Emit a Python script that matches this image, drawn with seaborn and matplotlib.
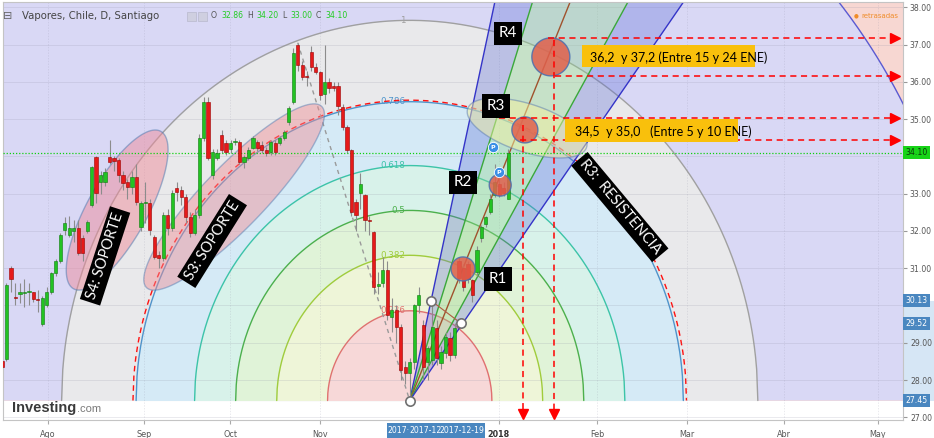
import numpy as np
import matplotlib.pyplot as plt
import matplotlib.patches as mpatches
import seaborn as sns

sns.set_style('white')
plt.rcParams['font.family'] = ['DejaVu Sans']

# daily bars, index 0 = first full candle on screen (mid July 2017)
bar_idx = np.arange(-1, 113)
opens = [28.50, 28.57, 31.00, 30.22, 30.30, 30.33, 30.36, 30.36, 30.16, 29.50,
         30.00, 30.36, 30.87, 31.20, 32.02, 31.90, 32.00, 32.08, 31.81, 32.00,
         32.70, 33.98, 33.30, 33.31, 33.98, 33.95, 33.90, 33.50, 33.31, 33.18,
         33.45, 32.10, 32.74, 32.75, 31.84, 31.36, 31.28, 32.43, 32.08, 33.15,
         33.10, 32.90, 32.37, 31.95, 32.43, 34.50, 35.45, 33.50, 33.96, 34.58,
         34.36, 34.20, 34.39, 34.39, 33.85, 33.96, 34.23, 34.39, 34.31, 34.17,
         34.12, 34.36, 34.36, 34.49, 34.93, 35.46, 36.99, 36.45, 36.14, 36.80,
         36.40, 36.26, 35.67, 35.99, 35.89, 35.89, 35.33, 34.79, 34.17, 32.78,
         33.02, 32.97, 32.30, 31.98, 30.53, 30.60, 30.95, 29.70, 29.88, 29.42,
         28.35, 28.19, 28.48, 30.00, 29.48, 28.48, 28.54, 29.40, 28.46, 28.73,
         29.13, 28.67, 31.20, 31.00, 31.10, 30.68, 30.90, 31.80, 32.18, 32.50,
         32.97, 33.25, 33.15, 32.86]
highs = [28.55, 30.60, 31.05, 30.60, 30.60, 30.70, 30.60, 30.37, 30.41, 30.25,
         30.50, 30.90, 31.25, 31.95, 32.37, 32.40, 32.30, 32.30, 31.90, 32.30,
         33.75, 34.00, 33.60, 33.70, 34.45, 34.00, 33.95, 33.60, 33.40, 33.60,
         33.80, 32.80, 33.30, 32.85, 31.90, 31.45, 32.50, 32.60, 33.10, 33.30,
         33.20, 33.00, 32.50, 32.60, 34.60, 35.60, 35.60, 34.20, 34.20, 34.70,
         34.45, 34.45, 34.50, 34.45, 34.05, 34.25, 34.55, 34.45, 34.40, 34.25,
         34.45, 34.45, 34.55, 34.70, 35.35, 36.90, 37.05, 36.55, 36.30, 36.95,
         36.50, 36.30, 36.99, 36.10, 36.00, 36.00, 35.40, 34.85, 34.20, 32.85,
         33.55, 33.00, 32.40, 32.00, 30.90, 31.30, 31.20, 30.20, 30.00, 29.50,
         28.50, 28.60, 30.05, 30.50, 29.60, 28.90, 30.13, 29.60, 28.90, 29.30,
         29.30, 29.52, 31.30, 31.10, 31.20, 30.70, 31.60, 32.15, 32.40, 33.00,
         33.80, 33.50, 33.30, 34.20]
lows = [28.30, 28.50, 30.36, 30.00, 30.06, 29.96, 30.00, 30.10, 29.83, 29.45,
        29.95, 30.30, 30.80, 31.15, 31.90, 31.85, 31.70, 31.35, 31.20, 31.95,
        32.65, 32.75, 33.00, 33.20, 33.80, 33.60, 33.30, 33.10, 32.85, 33.00,
        32.70, 32.00, 32.20, 31.90, 31.25, 31.00, 31.20, 31.90, 32.00, 32.80,
        32.70, 32.20, 31.85, 31.90, 32.35, 34.40, 33.90, 33.40, 33.90, 34.10,
        34.05, 34.10, 34.30, 33.80, 33.70, 33.90, 34.20, 34.15, 34.10, 34.00,
        34.05, 34.05, 34.30, 34.45, 34.85, 35.40, 36.30, 36.05, 35.90, 36.30,
        36.20, 35.50, 35.40, 35.70, 35.75, 35.10, 34.70, 34.10, 32.40, 32.00,
        32.60, 32.00, 31.90, 30.30, 30.30, 30.50, 29.60, 29.30, 29.00, 28.00,
        27.90, 27.45, 28.30, 29.80, 28.00, 28.00, 28.40, 28.40, 28.30, 28.60,
        28.50, 28.60, 30.60, 30.40, 30.60, 30.10, 30.80, 31.70, 32.10, 32.45,
        32.90, 32.90, 32.95, 32.85]
closes = [28.35, 30.55, 30.72, 30.20, 30.35, 30.37, 30.40, 30.17, 30.14, 30.20,
          30.37, 30.87, 31.20, 31.88, 32.21, 32.08, 32.08, 31.41, 31.41, 32.24,
          33.72, 33.02, 33.50, 33.58, 33.85, 33.88, 33.50, 33.29, 33.18, 33.45,
          32.78, 32.75, 32.78, 32.02, 31.30, 31.28, 32.43, 32.08, 33.01, 33.04,
          32.90, 32.37, 31.95, 32.43, 34.50, 35.45, 33.96, 34.12, 34.10, 34.17,
          34.12, 34.36, 34.40, 33.85, 33.99, 34.17, 34.49, 34.23, 34.17, 34.09,
          34.39, 34.12, 34.49, 34.66, 35.30, 36.77, 36.45, 36.13, 36.12, 36.40,
          36.26, 35.65, 35.99, 35.83, 35.83, 35.35, 34.79, 34.17, 32.51, 32.43,
          33.26, 32.29, 32.26, 30.50, 30.57, 30.95, 29.75, 29.88, 29.42, 28.26,
          28.19, 28.48, 30.00, 30.28, 28.35, 28.86, 29.42, 28.59, 28.75, 29.16,
          28.67, 29.40, 30.75, 30.50, 30.70, 30.28, 31.50, 32.10, 32.37, 32.85,
          33.30, 32.97, 33.02, 34.10]

month_pos = [9.3, 30.7, 49.9, 69.9, 109.9, 131.8, 151.9, 173.5, 194.5]
month_lbl = ['Ago', 'Sep', 'Oct', 'Nov', '2018', 'Feb', 'Mar', 'Abr', 'May']
price_ticks = np.arange(27, 39)
last_price = 34.10

# fibonacci arcs around the swing low
fib_cx, fib_cy = 90, 27.45
fib_levels = [1.618, 1, 0.786, 0.618, 0.5, 0.382, 0.236]
fib_labels = ['1.618', '1', '0.786', '0.618', '0.5', '0.382', '0.236']
fib_a, fib_b = 77.7, 10.2
fib_fill = ['#d9d8f5', '#e9e9eb', '#d5eaf6', '#d8f2ea', '#e0f3d8', '#eef5d8', '#f7d8d8']
fib_line = ['#5a5ad2', '#a0a0a0', '#4e94cc', '#3cc4a8', '#4cb04c', '#a0cc3c', '#e07070']

# fibonacci fan from the same low, x reached at the top of the chart
fan_top_x = [109.0, 117.4, 125.8, 138.7, 151.1]
fan_colors = ['#3434c8', '#3aa83a', '#a0522d', '#3aa83a', '#3434c8']
fan_anchor_x = [90, 94.75, 101.45]
fan_anchor_y = [27.45, 30.13, 29.52]

# resistance targets
circ_x = [121.5, 115.7, 110.2, 101.9]
circ_y = [36.67, 34.71, 33.23, 30.98]
circ_r = [19, 13, 11, 12]
guide_y = [37.18, 36.16, 35.03, 34.44]
guide_x0 = [120.9, 122.4, 110.0, 114.6]
drop_x = [115.3, 122.2]
drop_y0 = [34.84, 37.12]

W, H = 934, 438
fig = plt.figure(figsize=(W / 100, H / 100), dpi=100)
ax = fig.add_axes([3 / W, 18 / H, 900 / W, 418 / H])
xlim = (-0.78, 200.1)
ylim = (26.927, 38.142)
ax.set_xlim(*xlim)
ax.set_ylim(*ylim)
px_x = 900 / (xlim[1] - xlim[0])
px_y = 418 / (ylim[1] - ylim[0])


def px_ellipse(cx, cy, w, h, ang, **kw):
    t = np.linspace(0, 2 * np.pi, 120)
    u, v = w / 2 * np.cos(t), h / 2 * np.sin(t)
    r = np.deg2rad(ang)
    dx = u * np.cos(r) - v * np.sin(r)
    dy = u * np.sin(r) + v * np.cos(r)
    return ax.fill(cx + dx / px_x, cy + dy / px_y, **kw)


# backgrounds
ax.axhspan(fib_cy, ylim[1], color='#f7d7d2', lw=0, zorder=0.1)
for lev, lab, fc, lc in zip(fib_levels, fib_labels, fib_fill, fib_line):
    a, b = fib_a * lev, fib_b * lev
    xs = np.linspace(fib_cx - a, fib_cx + a, 600)
    ys = fib_cy + b * np.sqrt(np.clip(1 - ((xs - fib_cx) / a) ** 2, 0, None))
    ax.fill_between(xs, fib_cy, ys, color=fc, lw=0, zorder=0.5)
    sns.lineplot(x=xs, y=ys, color=lc, lw=1.0, ax=ax, sort=False,
                 estimator=None, legend=False, zorder=0.6)
    if lev < 1.5:
        ax.text(89.0, fib_cy + b, lab, color=lc, fontsize=6.3, ha='right',
                va='center', zorder=0.7)

# red dashed copy of the 0.786 arc
a, b = fib_a * 0.795, fib_b * 0.79
xs = np.linspace(fib_cx - a, fib_cx + a, 600)
ys = fib_cy + b * np.sqrt(np.clip(1 - ((xs - fib_cx) / a) ** 2, 0, None))
ax.plot(xs, ys, color='#ff1010', lw=1.0, ls=(0, (4, 3)), zorder=0.8)

# grid
for p in price_ticks:
    ax.axhline(p, color='#8a8aa0', lw=0.5, alpha=0.25, zorder=0.9)
for m in month_pos:
    ax.axvline(m, color='#8a8aa0', lw=0.5, alpha=0.25, ls=(0, (2, 2)), zorder=0.9)

# fan
def fan_x(k, y):
    return fib_cx + (fan_top_x[k] - fib_cx) * (y - fib_cy) / (ylim[1] - fib_cy)

ytop = 40
for k0, k1, fc, al in [(0, 1, '#5b6cd6', 0.32), (1, 3, '#8fd48f', 0.38), (3, 4, '#5b6cd6', 0.32)]:
    ax.fill([fib_cx, fan_x(k0, ytop), fan_x(k1, ytop)], [fib_cy, ytop, ytop],
            color=fc, alpha=al, lw=0, zorder=1.5)
for k, col in enumerate(fan_colors):
    sns.lineplot(x=[fib_cx, fan_x(k, ytop)], y=[fib_cy, ytop], color=col, lw=1.0,
                 ax=ax, legend=False, zorder=1.6)

# high-low reference line
ax.plot([65, 90], [37.05, 27.45], color='#9a9a9a', lw=1, ls=(0, (3, 3)), zorder=1.7)

# support zones
px_ellipse(24.7, 32.56, 180, 60, 61, fc='#ee8c9a', alpha=0.5, ec='#4a78b0', lw=1, zorder=2)
px_ellipse(50.8, 32.91, 252, 62, 46, fc='#f08c94', alpha=0.45, ec='#4a78b0', lw=1, zorder=2)
px_ellipse(116.2, 34.76, 125, 48, -18, fc='#f3f0a0', alpha=0.5, ec='#5a7ab0', lw=1, zorder=2)

# candles
o = np.array(opens); c = np.array(closes)
up = c >= o
body = np.maximum(np.abs(c - o), 0.03)
ax.vlines(bar_idx, lows, highs, color='#8c8c8c', lw=0.8, zorder=3)
ax.bar(bar_idx[up], body[up], bottom=o[up], width=0.72, color='#22c322',
       edgecolor='#0f7a0f', lw=0.4, zorder=4)
ax.bar(bar_idx[~up], body[~up], bottom=c[~up], width=0.72, color='#e61a1a',
       edgecolor='#9a0000', lw=0.4, zorder=4)

ax.axhline(last_price, color='#10d010', lw=0.9, ls=(0, (1, 1.5)), zorder=3.5)

# target circles
for x, y, r in zip(circ_x, circ_y, circ_r):
    px_ellipse(x, y, 2 * r, 2 * r, 0, fc='#e0604c', alpha=0.85, ec='#4a6fb0', lw=1, zorder=5)

# anchors
ax.plot(fan_anchor_x[1:], fan_anchor_y[1:], color='#b05a40', lw=0.8, zorder=5)
sns.scatterplot(x=fan_anchor_x, y=fan_anchor_y, s=45, color='white', edgecolor='#707070',
                linewidth=1.2, ax=ax, legend=False, zorder=6)

# P badges
for x, y in [(108.6, 34.25), (109.9, 33.58)]:
    ax.scatter([x], [y], s=55, color='#3a8ee6', edgecolor='white', lw=0.6, zorder=6)
    ax.text(x, y, 'P', color='white', fontsize=4.5, fontweight='bold', ha='center',
            va='center', zorder=7)

# red guides
for y, x0 in zip(guide_y, guide_x0):
    ax.plot([x0, 197.5], [y, y], color='#ff0000', lw=1.1, ls=(0, (4, 3)), zorder=5.5)
    ax.plot([198.4], [y], marker='>', ms=6.5, color='#ff0000', zorder=5.5)
for x, y0 in zip(drop_x, drop_y0):
    ax.plot([x, x], [y0, 27.2], color='#ff0000', lw=1.1, ls=(0, (4, 3)), zorder=5.5)
    ax.plot([x], [27.1], marker='v', ms=6.5, color='#ff0000', zorder=5.5, clip_on=False)

# yellow notes
lab_font = ['Lato', 'DejaVu Sans']
ax.add_patch(mpatches.Rectangle((128.5, 36.40), 38.6, 0.59, fc='#f9c00c', lw=0, zorder=6))
ax.text(130.2, 36.66, '36,2  y 37,2 (Entre 15 y 24 ENE)', fontsize=9, family=lab_font,
        va='center', ha='left', color='black', zorder=7)
ax.add_patch(mpatches.Rectangle((124.7, 34.39), 38.6, 0.61, fc='#f9c00c', lw=0, zorder=6))
ax.text(126.9, 34.66, '34,5  y 35,0   (Entre 5 y 10 ENE)', fontsize=9, family=lab_font,
        va='center', ha='left', color='black', zorder=7)

# black tags
box = dict(boxstyle='square,pad=0.3', fc='black', ec='none')
for txt, x, y in [('R4', 111.9, 37.30), ('R3', 109.3, 35.35), ('R2', 101.9, 33.31),
                  ('R1', 109.7, 30.71)]:
    ax.text(x, y, txt, color='white', fontsize=11, family=lab_font, ha='center',
            va='center', bbox=box, zorder=8)
for txt, x, y, rot in [('S4: SOPORTE', 22.0, 31.33, 72), ('S3: SOPORTE', 45.9, 31.73, 58),
                       ('R3:  RESISTENCIA', 136.9, 32.64, -50)]:
    ax.text(x, y, txt, color='white', fontsize=10.5, family=lab_font, ha='center',
            va='center', rotation=rot, rotation_mode='anchor',
            bbox=dict(boxstyle='square,pad=0.25', fc='black', ec='none'), zorder=8)

# axes styling
for s in ax.spines.values():
    s.set_color('#c4c4c4')
    s.set_linewidth(0.8)
ax.yaxis.tick_right()
ax.set_yticks(price_ticks)
# 30.00 and 34.00 sit under the marker boxes, as on the original
ax.set_yticklabels(['' if p in (30, 34) else f'{p:.2f}' for p in price_ticks])
ax.set_xticks(month_pos)
ax.set_xticklabels(month_lbl)
ax.tick_params(axis='y', labelsize=5.6, labelcolor='#555555', length=3, color='#999999',
               pad=2, right=True, left=False)
ax.tick_params(axis='x', labelsize=5.8, labelcolor='#555555', length=3, color='#aaaaaa',
               pad=4, bottom=True)
ax.get_xticklabels()[4].set_fontweight('bold')
ax.get_xticklabels()[4].set_color('#333333')

ytr = ax.get_yaxis_transform()
ax.add_patch(mpatches.Rectangle((1.0, 27.45), 0.034, 2.68, transform=ytr, fc='#d6e6f5',
                                lw=0, clip_on=False, zorder=0.05))
for val, fc, tc in [(34.10, '#18d418', '#0a3a0a'), (30.13, '#4a87c0', 'white'),
                    (29.52, '#4a87c0', 'white'), (27.45, '#4a87c0', 'white')]:
    ax.text(1.003, val, f'{val:.2f}', transform=ytr, fontsize=5.6, color=tc, ha='left',
            va='center', bbox=dict(boxstyle='square,pad=0.3', fc=fc, ec='none'),
            clip_on=False, zorder=10)

xtr = ax.get_xaxis_transform()
ax.add_patch(mpatches.Rectangle((84.9, -0.043), 21.9, 0.035, transform=xtr, fc='#4a87c0',
                                lw=0, clip_on=False, zorder=10))
for txt, x in [('2017·', 87.6), ('2017-12', 93.6), ('2017-12-19', 101.7)]:
    ax.text(x, -0.026, txt, transform=xtr, fontsize=5.6, color='white', ha='center',
            va='center', clip_on=False, zorder=11)

# header
def ft(x, y, s, **kw):
    fig.text(x / W, 1 - y / H, s, va='center', **kw)

ft(3, 16, '⊟', fontsize=8, color='#666666')
ft(22, 16, 'Vapores, Chile, D, Santiago', fontsize=7.3, color='#444444')
for x in [187, 198]:
    fig.patches.append(mpatches.Rectangle((x / W, 1 - 21 / H), 9 / W, 9 / H, fc='#cfcfe0',
                                          ec='#b8b8cc', lw=0.5, transform=fig.transFigure,
                                          figure=fig))
for x, s, col in [(211, 'O', '#555555'), (221, '32.86', '#22cc22'), (247, 'H', '#555555'),
                  (256, '34.20', '#22cc22'), (282, 'L', '#555555'), (290, '33.00', '#22cc22'),
                  (316, 'C', '#555555'), (325, '34.10', '#22cc22')]:
    ft(x, 16, s, fontsize=5.6, color=col)

ft(854, 16, '●', fontsize=4, color='#f08c28')
ft(861, 16, 'retrasadas', fontsize=5, color='#f08c28')

ft(12, 408, 'Investing', fontsize=10.5, fontweight='bold', color='#3a3a3a',
   family=['Liberation Sans', 'DejaVu Sans'])
ft(77, 409, '.com', fontsize=8, color='#7a7a7a', family=['Liberation Sans', 'DejaVu Sans'])

fig.savefig('out.png', dpi=100, facecolor='white')
